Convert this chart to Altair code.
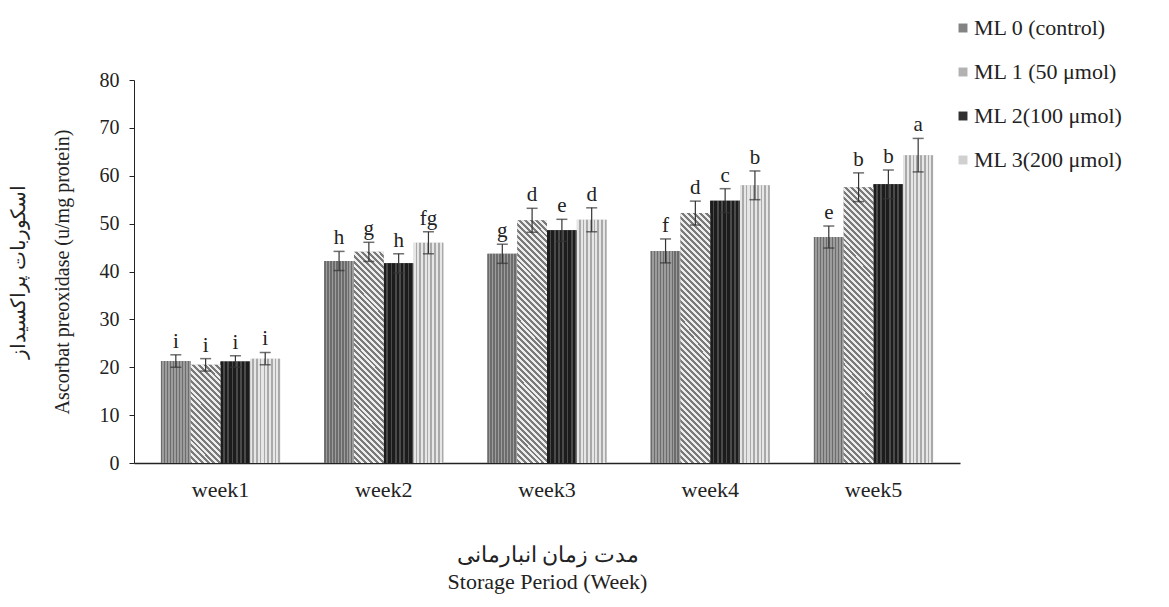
import altair as alt
import pandas as pd

weeks = ["week1", "week2", "week3", "week4", "week5"]
series = ["ML 0 (control)", "ML 1 (50 μmol)", "ML 2(100 μmol)", "ML 3(200 μmol)"]
ml0 = [21.3, 42.2, 43.7, 44.3, 47.2]
ml1 = [20.5, 44.1, 50.7, 52.2, 57.6]
ml2 = [21.2, 41.7, 48.6, 54.8, 58.2]
ml3 = [21.8, 46.0, 50.8, 58.0, 64.3]
err0 = [1.3, 2.0, 2.0, 2.5, 2.3]
err1 = [1.3, 2.0, 2.5, 2.5, 3.0]
err2 = [1.2, 2.0, 2.3, 2.5, 3.0]
err3 = [1.3, 2.3, 2.5, 3.0, 3.5]
let0 = ["i", "h", "g", "f", "e"]
let1 = ["i", "g", "d", "d", "b"]
let2 = ["i", "h", "e", "c", "b"]
let3 = ["i", "fg", "d", "b", "a"]
colors = ["#838383", "#b2b2b2", "#303030", "#d0d0d0"]

rows = []
for s, vals, errs, lets in zip(series, [ml0, ml1, ml2, ml3], [err0, err1, err2, err3], [let0, let1, let2, let3]):
    for w, v, e, l in zip(weeks, vals, errs, lets):
        rows.append({"week": w, "series": s, "value": v, "lo": v - e, "hi": v + e, "letter": l})
df = pd.DataFrame(rows)

PLOT_W, PLOT_H = 826, 383
BAR_W = 29.9


def stripes(c1, c2, n, t0=0.0, t1=1.0, frac=0.5):
    stops = []
    step = (t1 - t0) / n
    for i in range(n):
        a = t0 + i * step
        b = a + step * frac
        stops += [alt.GradientStop(color=c1, offset=a), alt.GradientStop(color=c1, offset=b),
                  alt.GradientStop(color=c2, offset=b), alt.GradientStop(color=c2, offset=a + step)]
    return stops


def hatch(value):
    # diagonal hatch style for one bar, matched to its aspect ratio
    a = value * PLOT_H / 80 / BAR_W
    t0 = max(0.0, (a * a - a) / (1 + a * a) - 0.02)
    period = 6.0 / (BAR_W * (1 + a * a))
    n = int((1 - t0) / period) + 1
    return alt.LinearGradient(gradient="linear", stops=stripes("#7a7a7a", "#eeeeee", n, t0, 1.0),
                              x1=0, y1=a, x2=1, y2=0)


grad = {
    series[0]: alt.LinearGradient(gradient="linear", stops=stripes("#6c6c6c", "#9c9c9c", 10),
                                  x1=0, y1=0, x2=1, y2=0),
    series[2]: alt.LinearGradient(gradient="linear", stops=stripes("#1c1c1c", "#4a4a4a", 7, frac=0.6),
                                  x1=0, y1=0, x2=1, y2=0),
    series[3]: alt.LinearGradient(gradient="linear", stops=stripes("#e6e6e6", "#a9a9a9", 8, frac=0.55),
                                  x1=0, y1=0, x2=1, y2=0),
}

FONT = "Liberation Serif"
x = alt.X("week:N", sort=weeks, scale=alt.Scale(paddingInner=0.27, paddingOuter=0.165),
          axis=alt.Axis(title=["مدت زمان انبارمانی", "Storage Period (Week)"], labelAngle=0,
                        ticks=False, labelPadding=16, titlePadding=44, titleLineHeight=27,
                        labelFontSize=22, titleFontSize=22,
                        domainColor="#222222", domainWidth=1.5))
xo = alt.XOffset("series:N", sort=series, scale=alt.Scale(domain=series, paddingInner=0, paddingOuter=0))
y = alt.Y("value:Q", scale=alt.Scale(domain=[0, 80]),
          axis=alt.Axis(values=list(range(0, 81, 10)), grid=False,
                        title=["اسکوربات پراکسیداز", "Ascorbat preoxidase (u/mg protein)"],
                        titlePadding=27, titleLineHeight=44, tickSize=5, labelPadding=10,
                        labelFontSize=20, titleFontSize=20,
                        domainColor="#222222", tickColor="#222222"))

base = alt.Chart(df)
bars = base.mark_bar(stroke=None).encode(
    x=x, xOffset=xo, y=y,
    color=alt.Color("series:N", sort=series, scale=alt.Scale(domain=series, range=colors),
                    legend=alt.Legend(title=None, orient="none", legendX=818, legendY=-63,
                                      symbolType="square", symbolSize=80, rowPadding=22,
                                      labelFontSize=22, labelFont=FONT, labelColor="#222222",
                                      labelOffset=0, symbolStrokeWidth=0)),
)
tex = [
    base.transform_filter(alt.datum.series == s).mark_bar(color=grad[s], stroke=None).encode(
        x=x, xOffset=xo, y="value:Q")
    for s in (series[0], series[2], series[3])
]
tex += [
    base.transform_filter((alt.datum.series == series[1]) & (alt.datum.week == w))
    .mark_bar(color=hatch(v), stroke=None).encode(x=x, xOffset=xo, y="value:Q")
    for w, v in zip(weeks, ml1)
]
rule = base.mark_rule(color="#333333", strokeWidth=1.2).encode(
    x=x, xOffset=xo, y="lo:Q", y2="hi:Q")
cap_hi = base.mark_tick(color="#333333", thickness=1.5, size=11, orient="horizontal").encode(
    x=x, xOffset=xo, y="hi:Q")
cap_lo = base.mark_tick(color="#333333", thickness=1.5, size=11, orient="horizontal").encode(
    x=x, xOffset=xo, y="lo:Q")
txt = base.mark_text(font=FONT, fontSize=21, dy=-13, color="#222222").encode(
    x=x, xOffset=xo, y="hi:Q", text="letter:N")

chart = alt.layer(bars, *tex, rule, cap_hi, cap_lo, txt).properties(
    width=PLOT_W, height=PLOT_H,
    autosize=alt.AutoSizeParams(type="none"),
    padding={"left": 126, "top": 72, "right": 201, "bottom": 136},
).configure_view(stroke=None).configure_axis(
    labelFont=FONT, titleFont=FONT,
    titleFontWeight="normal", labelColor="#222222", titleColor="#222222",
)

chart.save("out.html", embed_options={"renderer": "svg", "actions": False})
